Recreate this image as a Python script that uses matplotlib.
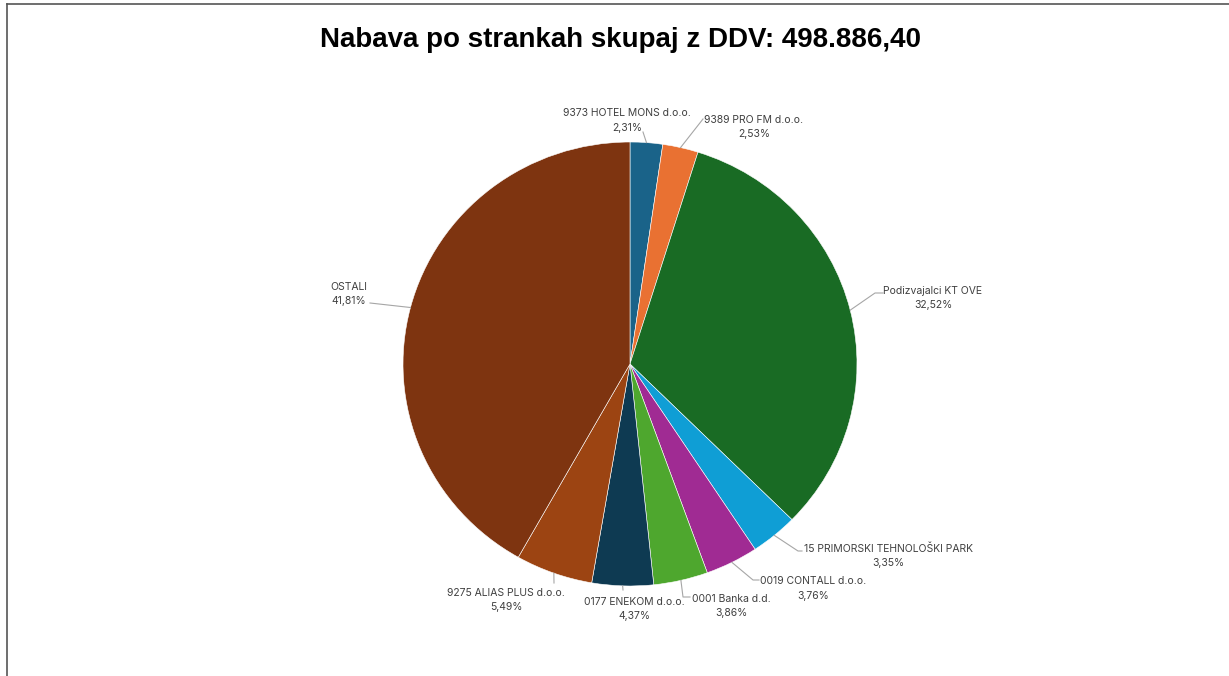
import numpy as np
import matplotlib.pyplot as plt
from matplotlib.lines import Line2D

# podatki
stranke = [
    "9373 HOTEL MONS d.o.o.",
    "9389 PRO FM d.o.o.",
    "Podizvajalci KT OVE",
    "15 PRIMORSKI TEHNOLOŠKI PARK",
    "0019 CONTALL d.o.o.",
    "0001 Banka d.d.",
    "0177 ENEKOM d.o.o.",
    "9275 ALIAS PLUS d.o.o.",
    "OSTALI",
]
deleži = [2.31, 2.53, 32.52, 3.35, 3.76, 3.86, 4.37, 5.49, 41.81]
naslov = "Nabava po strankah skupaj z DDV: 498.886,40"

barve = ["#1A6389", "#E97132", "#196B24", "#0F9ED5", "#A02B93",
         "#4EA72E", "#0E3A52", "#9C4412", "#7E3410"]

# postavitev (piksli slike)
W, H = 1229, 676
CX, CY, RX, RY = 630, 364, 227, 222

# središča besedil in prelomne točke povezovalnih črt (piksli)
pos_besedil = [(627, 120.5), (754, 127), (933, 298), (888, 556), (813, 588.5),
               (731, 606), (634, 609), (506, 600), (349, 294)]
prelomi = [
    [(643, 132)],
    [(703, 119)],
    [(875, 293), (883, 293)],
    [(798, 551), (802, 551)],
    [(753, 580), (759, 580)],
    [(683, 597), (690, 597)],
    [(623, 590)],
    [(554, 583)],
    [(370, 303)],
]


def v_podatke(px, py):
    return (px - CX) / RX, (CY - py) / RY


fig = plt.figure(figsize=(W / 100, H / 100), dpi=100)
fig.patch.set_facecolor("white")
ax = fig.add_axes([(CX - RX) / W, (H - CY - RY) / H, 2 * RX / W, 2 * RY / H])

wedges, _ = ax.pie(deleži, colors=barve, startangle=90, counterclock=False,
                   radius=1, wedgeprops=dict(edgecolor="white", linewidth=0.4))
ax.set_aspect("auto")
ax.set_xlim(-1, 1)
ax.set_ylim(-1, 1)
ax.axis("off")

for w, ime, d, (tx, ty), pts in zip(wedges, stranke, deleži, pos_besedil, prelomi):
    kot = np.deg2rad((w.theta1 + w.theta2) / 2)
    xs = [np.cos(kot)]
    ys = [np.sin(kot)]
    for px, py in pts:
        x, y = v_podatke(px, py)
        xs.append(x)
        ys.append(y)
    ax.plot(xs, ys, color="#A6A6A6", lw=0.8, clip_on=False)
    x, y = v_podatke(tx, ty)
    odstotek = f"{d:.2f}".replace(".", ",") + "%"
    ax.text(x, y, f"{ime}\n{odstotek}", ha="center", va="center",
            fontsize=7.5, family="Inter", color="#404040", linespacing=1.55,
            clip_on=False)

fig.text(620 / W, 1 - 40 / H, naslov, ha="center", va="center",
         fontsize=20, fontweight="bold", family="Liberation Sans", color="black")

# okvir
fig.add_artist(Line2D([7 / W, 1], [1 - 4 / H, 1 - 4 / H], color="#555555", lw=1.2))
fig.add_artist(Line2D([7 / W, 7 / W], [0, 1 - 4 / H], color="#555555", lw=1.2))

fig.savefig("out.png", dpi=100)
